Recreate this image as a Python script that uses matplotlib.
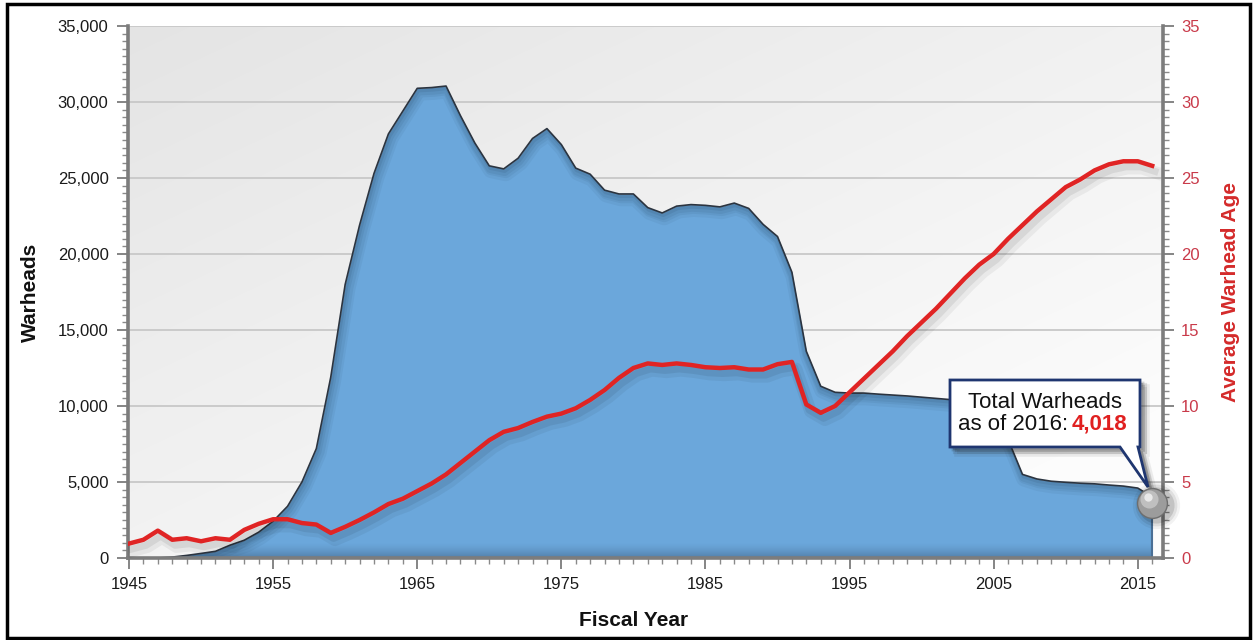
import numpy as np
import matplotlib
matplotlib.use("Agg")
import matplotlib.pyplot as plt
from matplotlib.patches import Polygon, Rectangle
from matplotlib import patheffects as pe
from matplotlib import transforms as mtrans
from matplotlib.ticker import MultipleLocator, FuncFormatter

plt.rcParams['font.family'] = ['Liberation Sans', 'DejaVu Sans']

# ---------------- data ----------------
years = list(range(1945, 2017))
warheads = [
    0, 0, 0, 60, 170, 300, 440, 840, 1170, 1700,            # 1945-1954
    2420, 3400, 5000, 7200, 11900, 18000, 21900, 25300, 27900, 29400,  # 1955-1964
    30900, 30950, 31050, 29100, 27300, 25800, 25600, 26300, 27600, 28250,  # 1965-1974
    27200, 25650, 25250, 24200, 23950, 23950, 23050, 22700, 23150, 23250,  # 1975-1984
    23200, 23100, 23350, 23000, 21950, 21150, 18800, 13600, 11300, 10900,  # 1985-1994
    10850, 10850, 10780, 10720, 10660, 10580, 10500, 10420, 10100, 8600,   # 1995-2004
    8300, 7800, 5500, 5200, 5050, 4980, 4920, 4880, 4800, 4730,            # 2005-2014
    4600, 4018,                                                            # 2015-2016
]
avg_age = [
    0.95, 1.2, 1.8, 1.2, 1.3, 1.1, 1.3, 1.2, 1.85, 2.25,       # 1945-1954
    2.55, 2.55, 2.3, 2.2, 1.65, 2.05, 2.5, 3.0, 3.55, 3.9,     # 1955-1964
    4.4, 4.9, 5.5, 6.25, 7.0, 7.75, 8.3, 8.55, 8.95, 9.3,      # 1965-1974
    9.5, 9.85, 10.4, 11.05, 11.85, 12.5, 12.8, 12.7, 12.8, 12.7,   # 1975-1984
    12.55, 12.5, 12.55, 12.4, 12.4, 12.75, 12.9, 10.1, 9.55, 10.0,  # 1985-1994
    10.9, 11.8, 12.7, 13.6, 14.6, 15.5, 16.4, 17.4, 18.4, 19.3,    # 1995-2004
    20.0, 21.0, 21.9, 22.8, 23.6, 24.4, 24.9, 25.5, 25.9, 26.1,    # 2005-2014
    26.1, 25.8,                                                    # 2015-2016
]
callout_line1 = "Total Warheads"
callout_line2 = "as of 2016:"
callout_value = "4,018"

# ---------------- style ----------------
W, H = 1254, 640
AREA_C = '#6ba7db'
EDGE_C = '#2b3440'
RED = '#e02424'
RED_TICK = '#c93a4a'
SPINE_C = '#7c7c7c'

fig = plt.figure(figsize=(W / 100, H / 100), dpi=100)
L, R, T, B = 128, 1163, 26, 558
ax = fig.add_axes([L / W, 1 - B / H, (R - L) / W, (B - T) / H])
ax2 = ax.twinx()

# background gradient
gx, gy = np.meshgrid(np.linspace(0, 1, 300), np.linspace(1, 0, 200))
t = np.clip(0.55 * gx + 0.6 * (1 - gy), 0, 1)
c = 0.895 + 0.095 * t
bg = np.dstack([c, c, c])
ax.imshow(bg, extent=(0, 1, 0, 1), transform=ax.transAxes, aspect='auto',
          zorder=0, interpolation='bilinear')

ax.set_xlim(1944.93, 2016.75)
ax.set_ylim(0, 35000)
ax2.set_ylim(0, 35)

ax.set_axisbelow(True)
ax.yaxis.grid(True, color='#c8c8c8', lw=1.3)
ax.xaxis.grid(False)

# area
area = ax.fill_between(years, warheads, color=AREA_C, lw=0, zorder=2)
area_path = area.get_paths()[0]
# inner shadow under the top edge
for dx, dy, w, a in [(2, -4, 12, 0.06), (2, -3, 9, 0.07), (1, -3, 6, 0.08), (1, -2, 3, 0.1)]:
    tr = mtrans.offset_copy(ax.transData, fig=fig, x=dx, y=dy, units='dots')
    ln, = ax.plot(years, warheads, color='#163250', lw=w, alpha=a, zorder=2.2,
                  transform=tr, solid_joinstyle='round')
    ln.set_clip_path(area_path, ax.transData)
# dark band at bottom of area
band = np.zeros((60, 2, 4))
band[..., 0] = 0.18
band[..., 1] = 0.27
band[..., 2] = 0.38
band[..., 3] = np.linspace(0.0, 0.55, 60)[:, None] ** 1.5
im = ax.imshow(band, extent=(0, 1, 0, 0.03), transform=ax.transAxes,
               aspect='auto', zorder=2.3, origin='upper')
im.set_clip_path(area_path, ax.transData)
ax.plot(years, warheads, color=EDGE_C, lw=1.2, zorder=2.5)
ax.plot([years[-1], years[-1]], [0, warheads[-1]], color='#4a6f95', lw=1.5, zorder=2.5)

# red line with soft shadow
ax2.plot(years, avg_age, color=RED, lw=3.2, zorder=5, solid_joinstyle='round',
         path_effects=[pe.SimpleLineShadow(offset=(3, -5), shadow_color='k', alpha=0.05, linewidth=9),
                       pe.SimpleLineShadow(offset=(2, -4), shadow_color='k', alpha=0.07, linewidth=5),
                       pe.Normal()])

# spines
for sp in ['top', 'right']:
    ax.spines[sp].set_visible(False)
for sp in ['top', 'left', 'bottom']:
    ax2.spines[sp].set_visible(False)
for s in [ax.spines['left'], ax.spines['bottom'], ax2.spines['right']]:
    s.set_color(SPINE_C)
    s.set_linewidth(2.6)
    s.set_zorder(6)

# ticks
ax.xaxis.set_minor_locator(MultipleLocator(1))
ax.set_xticks(list(range(1945, 2016, 10)))
ax.yaxis.set_major_locator(MultipleLocator(5000))
ax.yaxis.set_minor_locator(MultipleLocator(500))
ax2.yaxis.set_major_locator(MultipleLocator(5))
ax2.yaxis.set_minor_locator(MultipleLocator(0.5))
ax.yaxis.set_major_formatter(FuncFormatter(lambda v, p: f"{v:,.0f}"))

ax.tick_params(axis='both', which='major', direction='out', length=8, width=1.3,
               color=SPINE_C, labelsize=12, labelcolor='#1a1a1a', pad=6)
ax.tick_params(axis='both', which='minor', direction='out', length=4, width=1.0, color='#8a8a8a')
ax.tick_params(axis='x', which='major', pad=6)
ax2.tick_params(axis='y', which='major', direction='out', length=8, width=1.3,
                color=SPINE_C, labelsize=12, labelcolor=RED_TICK, pad=5)
ax2.tick_params(axis='y', which='minor', direction='out', length=4, width=1.0, color='#8a8a8a')

# axis titles
fig.text(30 / W, 1 - 292 / H, 'Warheads', rotation=90, ha='center', va='center',
         fontsize=15, fontweight='bold', color='#111111')
fig.text(634 / W, 1 - 621 / H, 'Fiscal Year', ha='center', va='center',
         fontsize=15, fontweight='bold', color='#111111')
fig.text(1231 / W, 1 - 292 / H, 'Average Warhead Age', rotation=90, ha='center', va='center',
         fontsize=15, fontweight='bold', color='#d42a2a')

# ---------------- callout ----------------
def ax_frac(px, py):
    return ((px - L) / (R - L), (B - py) / (B - T))

box_px = [(950, 380), (1140, 380), (1140, 447), (1138, 447), (1148, 487),
          (1120, 447), (950, 447)]
verts = [ax_frac(x, y) for x, y in box_px]
for k, (dx, dy, a) in enumerate([(7, -7, 0.08), (5, -5, 0.12), (3, -3, 0.18)]):
    tr = mtrans.offset_copy(ax2.transAxes, fig=fig, x=dx, y=dy, units='dots')
    ax2.add_patch(Polygon(verts, closed=True, transform=tr, fc='#202020', ec='#202020',
                          lw=4 - k, alpha=a, zorder=9, clip_on=False))
ax2.add_patch(Polygon(verts, closed=True, transform=ax2.transAxes, fc='white',
                      ec='#1f3670', lw=2.0, zorder=10, clip_on=False, joinstyle='miter'))

tx, ty1 = ax_frac(1045, 402)
ax2.text(tx, ty1, callout_line1, transform=ax2.transAxes, ha='center', va='center',
         fontsize=16, color='#111111', zorder=11)
xa, ty2 = ax_frac(1068, 424)
xb, _ = ax_frac(1072, 424)
ax2.text(xa, ty2, callout_line2, transform=ax2.transAxes, ha='right', va='center',
         fontsize=16, color='#111111', zorder=11)
ax2.text(xb, ty2, callout_value, transform=ax2.transAxes, ha='left', va='center',
         fontsize=16, color='#e02020', fontweight='bold', zorder=11)

# ball marker at the last data point
ball_tr = mtrans.offset_copy(ax.transData, fig=fig, x=0, y=-6, units='dots')
for ms, a in [(34, 0.05), (30, 0.08), (26, 0.12)]:
    tr = mtrans.offset_copy(ball_tr, fig=fig, x=4, y=-2, units='dots')
    ax2.plot([years[-1]], [warheads[-1]], 'o', ms=ms, color='k', alpha=a, mec='none',
             transform=tr, zorder=11, clip_on=False)
ax2.plot([years[-1]], [warheads[-1]], 'o', ms=21.5, color='#9c9c9c', mec='#6e6e6e', mew=1.0,
         transform=ball_tr, zorder=12, clip_on=False)
hl = mtrans.offset_copy(ball_tr, fig=fig, x=-3, y=4, units='dots')
ax2.plot([years[-1]], [warheads[-1]], 'o', ms=13, color='#c4c4c4', mec='none', alpha=0.9,
         transform=hl, zorder=12.5, clip_on=False)
hl2 = mtrans.offset_copy(ball_tr, fig=fig, x=-4, y=6, units='dots')
ax2.plot([years[-1]], [warheads[-1]], 'o', ms=6, color='#eeeeee', mec='none', alpha=0.9,
         transform=hl2, zorder=12.6, clip_on=False)

# figure border
fig.patches.append(Rectangle((7 / W, 2 / H), (1250 - 7) / W, (636 - 2) / H,
                             transform=fig.transFigure, fill=False, ec='black', lw=2.5))

fig.savefig('out.png', dpi=100, facecolor='white')
